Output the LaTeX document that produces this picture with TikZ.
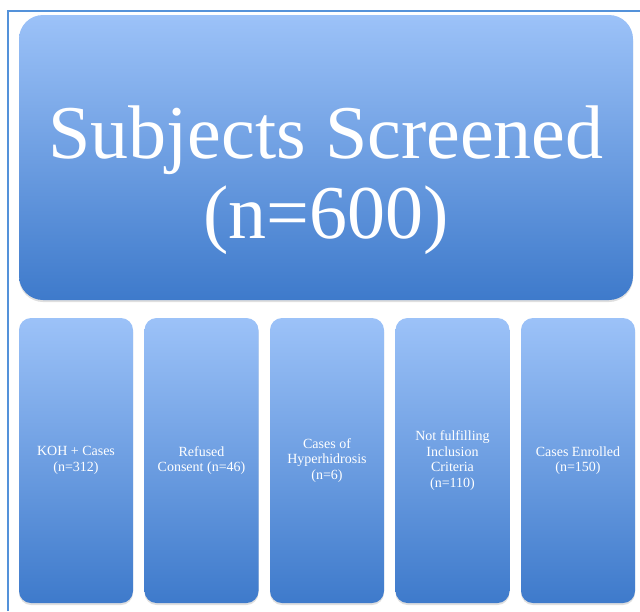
\documentclass[tikz,border=0pt]{standalone}
\usepackage{fontspec}
\setmainfont{Liberation Serif}
\usetikzlibrary{shadows}

\definecolor{boxtop}{RGB}{156,194,248}
\definecolor{boxbot}{RGB}{62,122,203}
\definecolor{framecol}{RGB}{84,146,218}

\begin{document}
\begin{tikzpicture}[x=1pt,y=-1pt,
  box/.style={draw=none, inner sep=0pt, top color=boxtop, bottom color=boxbot,
    drop shadow={opacity=0.25, shadow xshift=0pt, shadow yshift=-2pt}},
  bigbox/.style={box, rounded corners=24pt, minimum width=614pt, minimum height=285pt},
  smallbox/.style={box, rounded corners=12pt, minimum width=114pt, minimum height=285pt,
    text=white, align=center, font=\fontsize{14}{15.5}\selectfont},
  bigtext/.style={text=white, align=center, font=\fontsize{76}{80}\selectfont}]
  \useasboundingbox (0,0) rectangle (640,611);

  \coordinate (fb) at (8,611);
  \coordinate (fc) at (8,11);
  \coordinate (fr) at (640,11);
  \draw[framecol, line width=1.5pt] (fb) -- (fc) -- (fr);

  \node[bigbox] (screened) at (326,157.5) {};
  \node[bigtext] (screenedtxt) at (326,180) {Subjects Screened\\(n=600)};

  \foreach \lab [count=\i] in {{KOH + Cases\\(n=312)},
      {Refused\\Consent (n=46)},
      {Cases of\\Hyperhidrosis\\(n=6)},
      {Not fulfilling\\Inclusion\\Criteria\\(n=110)},
      {Cases Enrolled\\(n=150)}}
    \node[smallbox] (grp\i) at ({76+(\i-1)*125.5},460.5) {\lab};
\end{tikzpicture}
\end{document}
